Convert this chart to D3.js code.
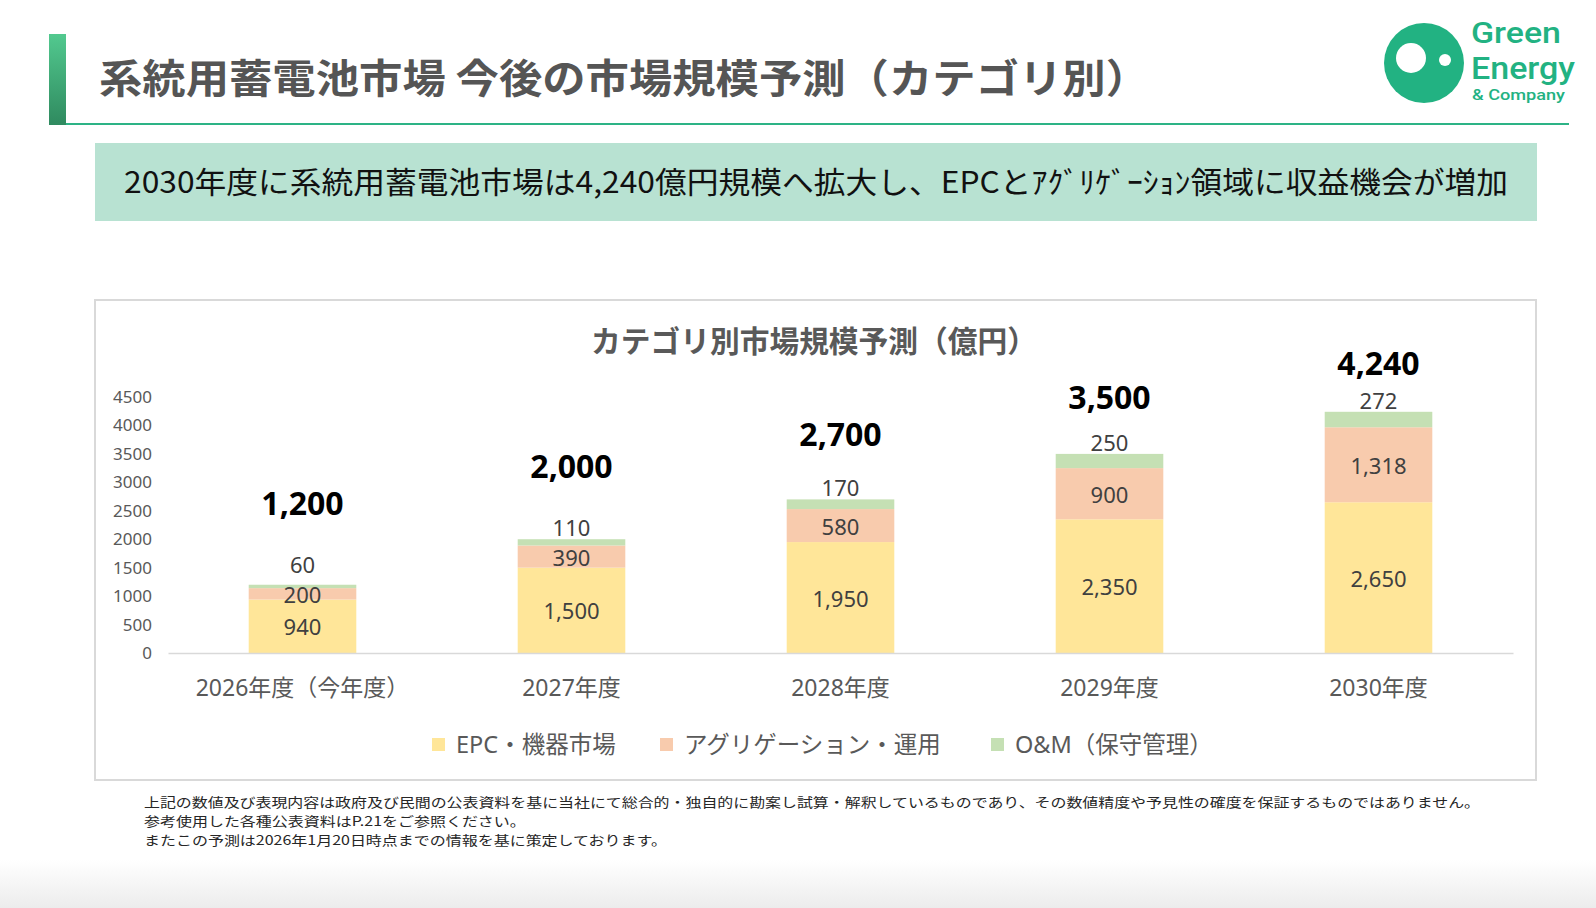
<!DOCTYPE html>
<html>
<head>
<meta charset="utf-8">
<script src="https://cdn.jsdelivr.net/npm/d3@7"></script>
<style>
  html, body { margin: 0; padding: 0; background: #fff; }
  svg { display: block; font-family: "Noto Sans", "Noto Sans CJK JP", sans-serif; }
</style>
</head>
<body>
<div id="chart"></div>
<script>
// values
const years = ["2026年度（今年度）", "2027年度", "2028年度", "2029年度", "2030年度"];
const epc = [940, 1500, 1950, 2350, 2650];
const aggregation = [200, 390, 580, 900, 1318];
const om = [60, 110, 170, 250, 272];
const totals = [1200, 2000, 2700, 3500, 4240];
const seriesNames = ["EPC・機器市場", "アグリゲーション・運用", "O&M（保守管理）"];
const seriesColors = ["#ffe699", "#f8cbad", "#c5e0b4"];
const yTicks = [0, 500, 1000, 1500, 2000, 2500, 3000, 3500, 4000, 4500];

const pageTitle = "系統用蓄電池市場 今後の市場規模予測（カテゴリ別）";
const headline = "2030年度に系統用蓄電池市場は4,240億円規模へ拡大し、EPCとｱｸﾞﾘｹﾞｰｼｮﾝ領域に収益機会が増加";
const chartTitle = "カテゴリ別市場規模予測（億円）";
const notes = [
    "上記の数値及び表現内容は政府及び民間の公表資料を基に当社にて総合的・独自的に勘案し試算・解釈しているものであり、その数値精度や予見性の確度を保証するものではありません。",
    "参考使用した各種公表資料はP.21をご参照ください。",
    "またこの予測は2026年1月20日時点までの情報を基に策定しております。"
];

const W = 1596, H = 908;
const jp = "'Noto Sans CJK JP', sans-serif";

const svg = d3.select("#chart").append("svg")
    .attr("width", W)
    .attr("height", H);

const defs = svg.append("defs");
const barGrad = defs.append("linearGradient").attr("id", "barGrad")
    .attr("x1", 0).attr("y1", 0).attr("x2", 0).attr("y2", 1);
barGrad.append("stop").attr("offset", "0%").attr("stop-color", "#52c98f");
barGrad.append("stop").attr("offset", "100%").attr("stop-color", "#2f8a5f");
const floorGrad = defs.append("linearGradient").attr("id", "floorGrad")
    .attr("x1", 0).attr("y1", 0).attr("x2", 0).attr("y2", 1);
floorGrad.append("stop").attr("offset", "0%").attr("stop-color", "#ffffff");
floorGrad.append("stop").attr("offset", "100%").attr("stop-color", "#ececec");

svg.append("rect").attr("x", 0).attr("y", 860).attr("width", W).attr("height", 48)
    .attr("fill", "url(#floorGrad)");

// page header
svg.append("rect").attr("x", 49).attr("y", 34).attr("width", 17).attr("height", 91)
    .attr("fill", "url(#barGrad)");
svg.append("line").attr("x1", 66).attr("x2", 1569).attr("y1", 124).attr("y2", 124)
    .attr("stroke", "#2db386").attr("stroke-width", 2);
svg.append("text").attr("x", 99).attr("y", 93)
    .attr("font-family", jp).attr("font-size", 40).attr("font-weight", 700)
    .attr("fill", "#555").attr("textLength", 1050).attr("lengthAdjust", "spacingAndGlyphs")
    .text(pageTitle);

// logo
const logo = svg.append("g")
    .attr("font-family", "Roboto").attr("font-weight", 500).attr("fill", "#22b282");
logo.append("circle").attr("cx", 1424).attr("cy", 63).attr("r", 40);
logo.append("circle").attr("cx", 1411).attr("cy", 58).attr("r", 15).attr("fill", "#fff");
logo.append("circle").attr("cx", 1445).attr("cy", 60).attr("r", 6).attr("fill", "#fff");
logo.append("text").attr("x", 1471).attr("y", 43).attr("font-size", 30)
    .attr("textLength", 90).attr("lengthAdjust", "spacingAndGlyphs").text("Green");
logo.append("text").attr("x", 1471).attr("y", 79).attr("font-size", 32)
    .attr("textLength", 104).attr("lengthAdjust", "spacingAndGlyphs").text("Energy");
logo.append("text").attr("x", 1472).attr("y", 100).attr("font-size", 15)
    .attr("textLength", 93).attr("lengthAdjust", "spacingAndGlyphs").text("& Company");

// headline band
svg.append("rect").attr("x", 95).attr("y", 143).attr("width", 1442).attr("height", 78)
    .attr("fill", "#b8e2d2");
svg.append("text").attr("x", 124).attr("y", 193)
    .attr("font-family", jp).attr("font-size", 30).attr("fill", "#111")
    .attr("textLength", 1384).attr("lengthAdjust", "spacingAndGlyphs")
    .text(headline);

// chart frame
svg.append("rect").attr("x", 95).attr("y", 300).attr("width", 1441).attr("height", 480)
    .attr("fill", "#fff").attr("stroke", "#d9d9d9").attr("stroke-width", 2);
svg.append("text").attr("x", 814).attr("y", 352).attr("text-anchor", "middle")
    .attr("font-family", jp).attr("font-size", 30).attr("font-weight", 700)
    .attr("fill", "#595959").attr("textLength", 446).attr("lengthAdjust", "spacingAndGlyphs")
    .text(chartTitle);

// scales
const x = d3.scaleBand()
    .domain(years)
    .range([168, 1513])
    .paddingInner(0.6)
    .paddingOuter(0.3);

const y = d3.scaleLinear()
    .domain([0, 4500])
    .range([653, 397]);

// y axis
const yAxis = svg.append("g")
    .attr("transform", "translate(158,0)")
    .call(d3.axisLeft(y).tickValues(yTicks).tickFormat(d3.format("d")).tickSize(0).tickPadding(6));
yAxis.select(".domain").remove();
yAxis.selectAll("text")
    .attr("font-size", 17).attr("fill", "#595959")
    .attr("font-family", "'Noto Sans'");

// stacked bars
const rows = years.map((yr, i) => ({ year: yr, epc: epc[i], agg: aggregation[i], om: om[i] }));
const keys = ["epc", "agg", "om"];
const stacked = d3.stack().keys(keys)(rows);

const layers = svg.append("g").selectAll("g")
    .data(stacked)
    .join("g")
    .attr("fill", (d, i) => seriesColors[i]);

layers.selectAll("rect")
    .data(d => d)
    .join("rect")
    .attr("x", d => x(d.data.year))
    .attr("y", d => y(d[1]))
    .attr("width", x.bandwidth())
    .attr("height", d => y(d[0]) - y(d[1]));

// x axis
const xAxis = svg.append("g")
    .attr("transform", "translate(0,653)")
    .call(d3.axisBottom(x).tickSize(0).tickSizeOuter(0).tickPadding(27));
xAxis.select(".domain").attr("stroke", "#d9d9d9").attr("stroke-width", 1.5);
xAxis.selectAll("text")
    .attr("font-size", 23).attr("fill", "#595959")
    .attr("font-family", "'Noto Sans', 'Noto Sans CJK JP'");

// segment labels
const fmt = d3.format(",");
const mid = d => (y(d[0]) + y(d[1])) / 2;
const labelG = svg.append("g")
    .attr("font-size", 22).attr("fill", "#404040").attr("text-anchor", "middle")
    .attr("dominant-baseline", "central");

stacked.forEach((layer, li) => {
    labelG.selectAll(null)
        .data(layer)
        .join("text")
        .attr("x", d => x(d.data.year) + x.bandwidth() / 2)
        .attr("y", (d, i) => li === 2
            // thin O&M slice: label sits just above the bar, clear of the label beneath
            ? Math.min(y(d[1]) - 12, mid(stacked[1][i]) - 30)
            : mid(d))
        .text(d => fmt(d[1] - d[0]));
});

// totals float on a lane that rises more gently than the bars
svg.append("g").selectAll("text")
    .data(totals)
    .join("text")
    .attr("x", (d, i) => x(years[i]) + x.bandwidth() / 2)
    .attr("y", d => y(d * 0.81 + 1680))
    .attr("text-anchor", "middle")
    .attr("dominant-baseline", "central")
    .attr("font-size", 32).attr("font-weight", 700).attr("fill", "#000")
    .text(d => fmt(d));

// legend
const legendX = [432, 660, 991];
const legend = svg.append("g").selectAll("g")
    .data(seriesNames)
    .join("g")
    .attr("transform", (d, i) => `translate(${legendX[i]},744)`);
legend.append("rect")
    .attr("x", 0).attr("y", -6).attr("width", 13).attr("height", 13)
    .attr("fill", (d, i) => seriesColors[i]);
legend.append("text")
    .attr("x", 24).attr("y", 0)
    .attr("dominant-baseline", "central")
    .attr("font-size", 23.5).attr("fill", "#595959")
    .attr("font-family", "'Noto Sans', 'Noto Sans CJK JP'")
    .text(d => d);

// foot notes (tight line pitch, glyphs squeezed a little vertically)
svg.append("g").selectAll("text")
    .data(notes)
    .join("text")
    .attr("transform", (d, i) => `translate(144,${801 + i * 19}) scale(1,0.8)`)
    .attr("dominant-baseline", "central")
    .attr("font-family", jp).attr("font-size", 16).attr("fill", "#262626")
    .attr("textLength", (d, i) => i === 0 ? 1336 : null)
    .attr("lengthAdjust", "spacingAndGlyphs")
    .text(d => d);
</script>
</body>
</html>
